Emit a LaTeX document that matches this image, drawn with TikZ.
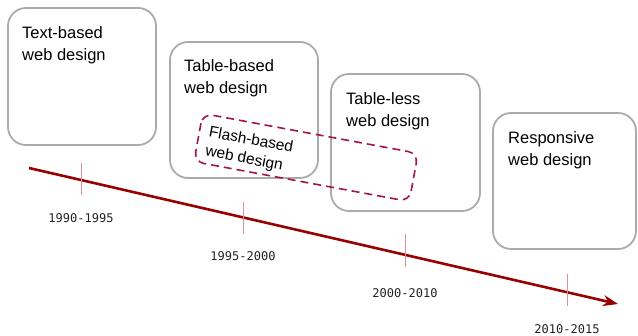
\documentclass[tikz,border=0pt]{standalone}
\usepackage{fontspec}
\setmainfont{Liberation Sans}
\newfontfamily\labelfont{DejaVu Sans Mono}
\usetikzlibrary{arrows.meta}
\definecolor{boxgray}{HTML}{ABABAB}
\definecolor{lineRed}{HTML}{990000}
\definecolor{tickRed}{HTML}{D9909A}
\definecolor{flashRed}{HTML}{A3173F}
\definecolor{lblGray}{HTML}{222222}
\begin{document}
\begin{tikzpicture}[x=1pt,y=-1pt,
  erabox/.style={draw=boxgray,line width=1.8pt,rounded corners=18pt},
  eratext/.style={anchor=north west,inner sep=0pt,align=left,font=\fontsize{16.5}{22}\selectfont},
  ticklbl/.style={inner sep=0pt,text=lblGray,font=\labelfont\fontsize{12}{13}\selectfont},
  tickline/.style={draw=tickRed,line width=1pt}]
\useasboundingbox (0,0) rectangle (638,336);
% boxes
\draw[erabox] (8,8) rectangle (156,145);
\node[eratext] (t1) at (22,26) {Text-based\\web design};
\draw[erabox] (170,42) rectangle (318,178);
\node[eratext] (t2) at (184,59) {Table-based\\web design};
\draw[erabox] (331,74) rectangle (480,211);
\node[eratext] (t3) at (346,92) {Table-less\\web design};
\draw[erabox] (493,113) rectangle (636,249);
\node[eratext] (t4) at (508,131) {Responsive\\web design};
% flash box
\begin{scope}[shift={(306,157.5)},rotate=-10.5]
\draw[draw=flashRed,line width=1.6pt,dash pattern=on 8pt off 5pt,rounded corners=10pt] (-109.5,-24.5) rectangle (109.5,24.5);
\node[anchor=north west,inner sep=0pt,align=left,rotate=-10.5,font=\fontsize{15.5}{19.5}\selectfont] (t5) at (-100,-14) {Flash-based\\web design};
\end{scope}
% timeline
\coordinate (s) at (29,168);
\coordinate (e) at (618,304);
\draw[lineRed,line width=2.6pt,-{Stealth[length=15pt,width=11pt]}] (s) -- (e);
% ticks
\coordinate (k1a) at (81,163); \coordinate (k1b) at (81,195);
\coordinate (k2a) at (243,202); \coordinate (k2b) at (243,234);
\coordinate (k3a) at (405,234); \coordinate (k3b) at (405,267);
\coordinate (k4a) at (567,274); \coordinate (k4b) at (567,306);
\draw[tickline] (k1a) -- (k1b);
\draw[tickline] (k2a) -- (k2b);
\draw[tickline] (k3a) -- (k3b);
\draw[tickline] (k4a) -- (k4b);
\node[ticklbl] (l1) at (81,218) {1990-1995};
\node[ticklbl] (l2) at (243,256) {1995-2000};
\node[ticklbl] (l3) at (405,293) {2000-2010};
\node[ticklbl] (l4) at (567,329) {2010-2015};
\end{tikzpicture}
\end{document}
